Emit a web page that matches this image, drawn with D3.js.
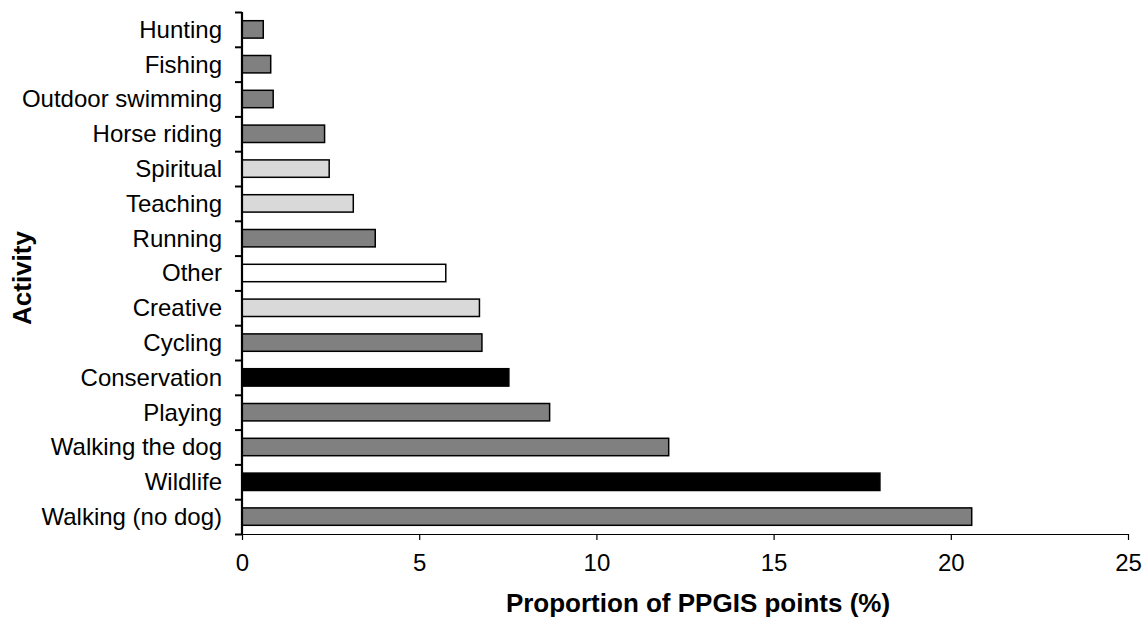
<!DOCTYPE html>
<html>
<head>
<meta charset="utf-8">
<script src="https://cdn.jsdelivr.net/npm/d3@7"></script>
<style>
  body { margin: 0; background: #fff; }
  svg { font-family: 'Liberation Sans', Arial, sans-serif; }
</style>
</head>
<body>
<svg width="1146" height="618"></svg>
<script>
// activities, top to bottom as in the chart
const activities = [
  'Hunting', 'Fishing', 'Outdoor swimming', 'Horse riding', 'Spiritual',
  'Teaching', 'Running', 'Other', 'Creative', 'Cycling',
  'Conservation', 'Playing', 'Walking the dog', 'Wildlife', 'Walking (no dog)',
];
const proportions = [
  0.6, 0.81, 0.88, 2.33, 2.46,
  3.14, 3.76, 5.75, 6.7, 6.77,
  7.53, 8.68, 12.04, 18.0, 20.59,
];
// activity group per bar: physical, social/cultural, ecological, other
const groups = [
  'physical', 'physical', 'physical', 'physical', 'cultural',
  'cultural', 'physical', 'other', 'cultural', 'physical',
  'ecological', 'physical', 'physical', 'ecological', 'physical',
];
const xTicks = [0, 5, 10, 15, 20, 25];

const groupFill = {
  physical: '#808080',
  cultural: '#d9d9d9',
  ecological: '#000000',
  other: '#ffffff',
};

const svg = d3.select('svg');
const margin = { top: 12, right: 18, bottom: 84, left: 242 };
const width = Number(svg.attr('width')) - margin.left - margin.right;
const height = Number(svg.attr('height')) - margin.top - margin.bottom;

const chart = svg.append('g')
  .attr('transform', `translate(${margin.left}, ${margin.top})`);

const x = d3.scaleLinear()
  .domain([0, 25])
  .range([0, width]);

const y = d3.scaleBand()
  .domain(activities)
  .range([0, height])
  .paddingInner(0.5)
  .paddingOuter(0.25);

// bars
const data = activities.map((name, i) => ({ name, value: proportions[i], group: groups[i] }));
chart.selectAll('rect.bar')
  .data(data)
  .enter().append('rect')
    .attr('class', 'bar')
    .attr('x', x(0))
    .attr('y', d => y(d.name))
    .attr('width', d => x(d.value) - x(0))
    .attr('height', y.bandwidth())
    .style('fill', d => groupFill[d.group])
    .style('stroke', '#000')
    .style('stroke-width', 1.5);

// y-axis: ticks sit between categories, so use a linear scale over the bands
const yEdge = d3.scaleLinear()
  .domain([0, activities.length])
  .range([0, height]);

const yAxis = chart.append('g')
  .attr('class', 'axis axis-left')
  .call(d3.axisLeft(yEdge)
    .tickValues(d3.range(activities.length + 1))
    .tickSize(7)
    .tickFormat(''));
yAxis.select('.domain').attr('stroke-width', 2.2).attr('d', `M0,0V${height}`);
yAxis.selectAll('.tick line').attr('stroke-width', 2);

chart.append('g')
  .selectAll('text')
  .data(activities)
  .enter().append('text')
    .attr('x', -20)
    .attr('y', d => y(d) + y.bandwidth() / 2)
    .attr('dy', '0.35em')
    .attr('text-anchor', 'end')
    .style('font-size', '24px')
    .style('fill', '#000')
    .text(d => d);

// x-axis
const xAxis = chart.append('g')
  .attr('class', 'axis axis-bottom')
  .attr('transform', `translate(0, ${height})`)
  .call(d3.axisBottom(x).tickValues(xTicks).tickSize(6).tickSizeOuter(0).tickPadding(14));
xAxis.select('.domain').attr('stroke-width', 1.2);
xAxis.selectAll('.tick line').attr('stroke-width', 1.2);
xAxis.selectAll('.tick text')
  .style('font-family', "'Liberation Sans', Arial, sans-serif")
  .style('font-size', '24px')
  .style('fill', '#000');

// axis titles
svg.append('text')
  .attr('x', 698)
  .attr('y', 612)
  .attr('text-anchor', 'middle')
  .style('font-size', '26px')
  .style('font-weight', 'bold')
  .text('Proportion of PPGIS points (%)');

svg.append('text')
  .attr('transform', `translate(31, ${margin.top + height / 2 + 5}) rotate(-90)`)
  .attr('text-anchor', 'middle')
  .style('font-size', '26px')
  .style('font-weight', 'bold')
  .text('Activity');
</script>
</body>
</html>
